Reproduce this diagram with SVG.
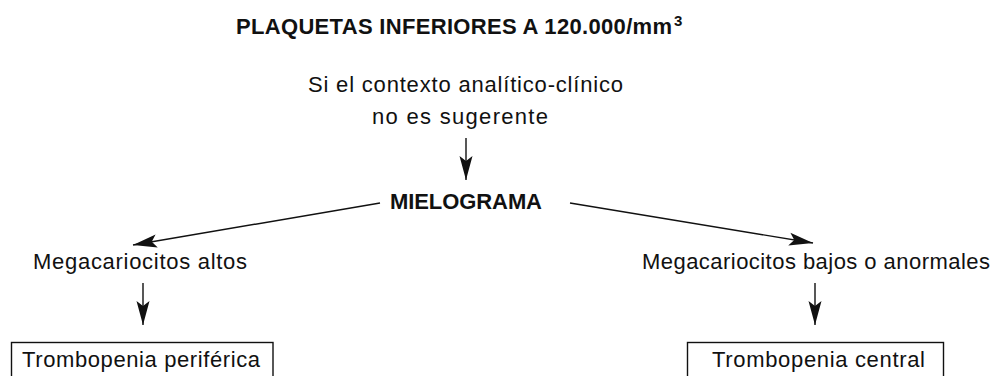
<svg xmlns="http://www.w3.org/2000/svg" width="999" height="376" viewBox="0 0 999 376">
<defs>
<style>
text{font-family:"Liberation Sans",Arial,sans-serif;fill:#111;font-size:22px}
.b{font-weight:bold}
.c line{stroke:#111;stroke-width:1.4;fill:none}
.box{fill:#fff;stroke:#111;stroke-width:1.4}
</style>
<marker id="ah" markerUnits="userSpaceOnUse" viewBox="-24 -8 26 16" refX="0" refY="0" markerWidth="26" markerHeight="16" orient="auto">
<path d="M0,0 L-24,-6.5 L-19,0 L-24,6.5 Z" fill="#111"/>
</marker>
</defs>
<g id="title"><text class="b" x="236" y="34" textLength="436" lengthAdjust="spacing">PLAQUETAS INFERIORES A 120.000/mm</text><text class="b" x="674" y="26" style="font-size:15px">3</text></g>
<g id="contexto"><text x="308" y="92" textLength="315" lengthAdjust="spacing">Si el contexto analítico-clínico</text><text x="372" y="124" textLength="176" lengthAdjust="spacing">no es sugerente</text></g>
<g id="mielograma"><text class="b" x="390" y="209" textLength="152" lengthAdjust="spacing">MIELOGRAMA</text></g>
<g id="mega-altos"><text x="33" y="269" textLength="214" lengthAdjust="spacing">Megacariocitos altos</text></g>
<g id="mega-bajos"><text x="642" y="269" textLength="348" lengthAdjust="spacing">Megacariocitos bajos o anormales</text></g>
<g id="trombo-periferica"><rect class="box" x="11.5" y="342.5" width="261.5" height="50"/><text x="22" y="367" textLength="238" lengthAdjust="spacing">Trombopenia periférica</text></g>
<g id="trombo-central"><rect class="box" x="687.5" y="342.5" width="256" height="50"/><text x="712" y="367" textLength="213" lengthAdjust="spacing">Trombopenia central</text></g>
<g class="c" id="connectors">
<line x1="466" y1="138" x2="466" y2="180" marker-end="url(#ah)"/>
<line x1="380" y1="203" x2="133" y2="245" marker-end="url(#ah)"/>
<line x1="570" y1="203" x2="813" y2="243" marker-end="url(#ah)"/>
<line x1="143" y1="283" x2="143" y2="325" marker-end="url(#ah)"/>
<line x1="815" y1="283" x2="815" y2="325" marker-end="url(#ah)"/>
</g>
</svg>
